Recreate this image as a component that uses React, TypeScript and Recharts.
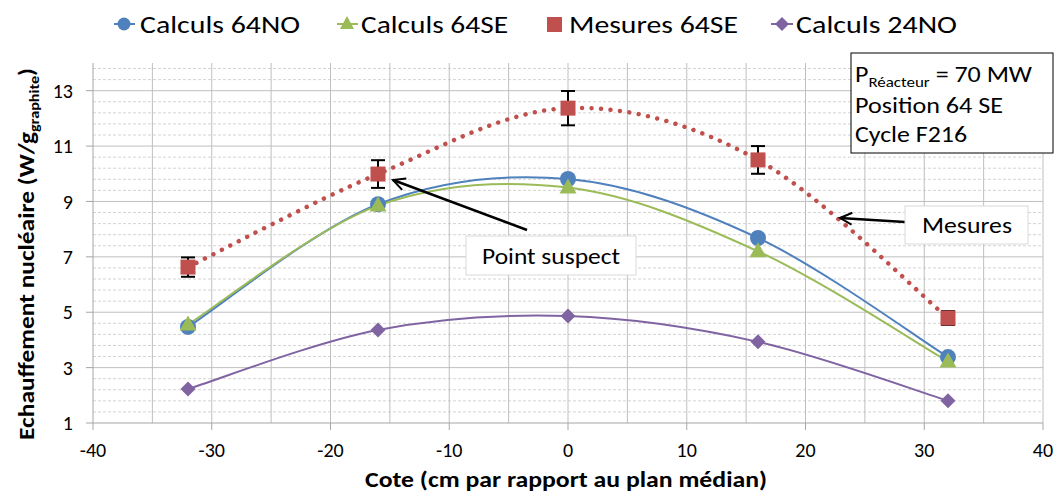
import * as React from "react";
import {
  LineChart,
  Line,
  XAxis,
  YAxis,
  ReferenceLine,
  ErrorBar,
} from "recharts";

// values
const cotes = [-32, -16, 0, 16, 32];
const calculs64NO = [4.47, 8.9, 9.81, 7.68, 3.38];
const calculs64SE = [4.56, 8.85, 9.5, 7.2, 3.22];
const mesures64SE = [6.63, 9.99, 12.37, 10.5, 4.79];
const mesuresErr = [0.35, 0.5, 0.62, 0.5, 0.25];
const calculs24NO = [2.23, 4.36, 4.86, 3.93, 1.8];

const xTicks = [-40, -30, -20, -10, 0, 10, 20, 30, 40];
const xGrid = [-35, -30, -25, -20, -15, -10, -5, 0, 5, 10, 15, 20, 25, 30, 35, 40];
const yTicks = [1, 3, 5, 7, 9, 11, 13];
const yMinor: number[] = [];
for (let v = 1.4; v < 14; v += 0.4) {
  const r = Math.round(v * 10) / 10;
  if (!yTicks.includes(r)) yMinor.push(r);
}

const BLUE = "#4F81BD";
const GREEN = "#9BBB59";
const RED = "#C0504D";
const PURPLE = "#8064A2";
const FONT = "Calibri, Carlito, Lato, sans-serif";

const data = cotes.map((x, i) => ({
  x,
  no64: calculs64NO[i],
  se64: calculs64SE[i],
  mes: mesures64SE[i],
  mesErr: mesuresErr[i],
  no24: calculs24NO[i],
}));

// Excel-like smoothed line (Catmull-Rom through the points)
const excelSmooth = (context: any) => {
  let pts: number[][] = [];
  return {
    areaStart() {},
    areaEnd() {},
    lineStart() {
      pts = [];
    },
    point(x: number, y: number) {
      pts.push([+x, +y]);
    },
    lineEnd() {
      const n = pts.length;
      if (!n) return;
      context.moveTo(pts[0][0], pts[0][1]);
      for (let i = 0; i < n - 1; i++) {
        const p0 = pts[i > 0 ? i - 1 : i];
        const p1 = pts[i];
        const p2 = pts[i + 1];
        const p3 = pts[i + 2 < n ? i + 2 : i + 1];
        context.bezierCurveTo(
          p1[0] + (p2[0] - p0[0]) / 6,
          p1[1] + (p2[1] - p0[1]) / 6,
          p2[0] - (p3[0] - p1[0]) / 6,
          p2[1] - (p3[1] - p1[1]) / 6,
          p2[0],
          p2[1]
        );
      }
    },
  };
};

const circleDot = (p: any) => <circle key={`c${p.index}`} cx={p.cx} cy={p.cy} r={8} fill={BLUE} />;
const triangleDot = (p: any) => (
  <polygon
    key={`t${p.index}`}
    points={`${p.cx},${p.cy - 9} ${p.cx - 8.5},${p.cy + 6} ${p.cx + 8.5},${p.cy + 6}`}
    fill={GREEN}
  />
);
const squareDot = (p: any) => (
  <rect key={`s${p.index}`} x={p.cx - 7.5} y={p.cy - 7.5} width={15} height={15} fill={RED} />
);
const diamondDot = (p: any) => (
  <polygon
    key={`d${p.index}`}
    points={`${p.cx},${p.cy - 7.5} ${p.cx + 7.5},${p.cy} ${p.cx},${p.cy + 7.5} ${p.cx - 7.5},${p.cy}`}
    fill={PURPLE}
  />
);

function Overlay() {
  return (
    <svg
      width={1056}
      height={503}
      style={{ position: "absolute", left: 0, top: 0, pointerEvents: "none" }}
      fontFamily={FONT}
    >
      <defs>
        <marker id="open-arrow" markerWidth="16" markerHeight="16" refX="13" refY="7" orient="auto" markerUnits="userSpaceOnUse">
          <path d="M1,1 L13,7 L1,13" fill="none" stroke="#000" strokeWidth={2} />
        </marker>
      </defs>

      {/* legend */}
      <line x1={114} x2={135} y1={24} y2={24} stroke={BLUE} strokeWidth={2} />
      <circle cx={124} cy={24} r={6.5} fill={BLUE} />
      <text x={140} y={33} fontSize={24} textLength={160} lengthAdjust="spacingAndGlyphs">Calculs 64NO</text>
      <line x1={337} x2={358} y1={24} y2={24} stroke={GREEN} strokeWidth={2} />
      <polygon points="347,16 340,29 354,29" fill={GREEN} />
      <text x={361} y={33} fontSize={24} textLength={147} lengthAdjust="spacingAndGlyphs">Calculs 64SE</text>
      <rect x={547} y={17} width={15} height={15} fill={RED} />
      <text x={569} y={33} fontSize={24} textLength={169} lengthAdjust="spacingAndGlyphs">Mesures 64SE</text>
      <line x1={771} x2={793} y1={24} y2={24} stroke={PURPLE} strokeWidth={2} />
      <polygon points="782,17 789,24 782,31 775,24" fill={PURPLE} />
      <text x={796} y={33} fontSize={24} textLength={161} lengthAdjust="spacingAndGlyphs">Calculs 24NO</text>

      {/* axis titles */}
      <text
        transform="translate(34,254) rotate(-90)"
        textAnchor="middle"
        fontSize={22}
        fontWeight="bold"
        textLength={372}
        lengthAdjust="spacingAndGlyphs"
      >
        Echauffement nucléaire (W/g
        <tspan fontSize={14} dy={5}>graphite</tspan>
        <tspan dy={-5}>)</tspan>
      </text>
      <text x={566} y={487} textAnchor="middle" fontSize={22} fontWeight="bold" textLength={402} lengthAdjust="spacingAndGlyphs">
        Cote (cm par rapport au plan médian)
      </text>

      {/* info box */}
      <rect x={851} y={53} width={202} height={100} fill="#fff" stroke="#000" strokeWidth={1} />
      <text x={855} y={82} fontSize={23} textLength={177} lengthAdjust="spacingAndGlyphs">
        P<tspan fontSize={15} dy={5}>Réacteur</tspan>
        <tspan dy={-5}> = 70 MW</tspan>
      </text>
      <text x={855} y={113} fontSize={23} textLength={148} lengthAdjust="spacingAndGlyphs">Position 64 SE</text>
      <text x={855} y={142} fontSize={23} textLength={112} lengthAdjust="spacingAndGlyphs">Cycle F216</text>

      {/* annotations */}
      <line x1={527} y1={230} x2={393} y2={180} stroke="#000" strokeWidth={2.5} markerEnd="url(#open-arrow)" />
      <rect x={466} y={236} width={170} height={39} fill="#fff" stroke="#d9d9d9" />
      <text x={551} y={264} textAnchor="middle" fontSize={23} textLength={138} lengthAdjust="spacingAndGlyphs">Point suspect</text>

      <line x1={905} y1={222} x2={840} y2={218} stroke="#000" strokeWidth={2.5} markerEnd="url(#open-arrow)" />
      <rect x={905} y={206} width={123} height={38} fill="#fff" stroke="#d9d9d9" />
      <text x={967} y={233} textAnchor="middle" fontSize={23} textLength={90} lengthAdjust="spacingAndGlyphs">Mesures</text>
    </svg>
  );
}

export default function App() {
  return (
    <div style={{ position: "relative", width: 1056, height: 503, background: "#fff", fontFamily: FONT }}>
      <style>{`body{margin:0}`}</style>
      <LineChart width={1056} height={503} data={data} margin={{ top: 63, right: 13, bottom: 40, left: 33 }}>
        <XAxis
          type="number"
          dataKey="x"
          domain={[-40, 40]}
          ticks={xTicks}
          interval={0}
          height={40}
          tickSize={7}
          tickMargin={13}
          tick={{ fontSize: 20, fill: "#000", fontFamily: FONT }}
          axisLine={{ stroke: "#a6a6a6" }}
          tickLine={{ stroke: "#a6a6a6" }}
        />
        <YAxis
          type="number"
          domain={[1, 14]}
          ticks={yTicks}
          interval={0}
          width={60}
          tickSize={7}
          tickMargin={13}
          tick={{ fontSize: 20, fill: "#000", fontFamily: FONT }}
          axisLine={{ stroke: "#a6a6a6" }}
          tickLine={{ stroke: "#a6a6a6" }}
        />
        {yMinor.map((v) => (
          <ReferenceLine key={`ym${v}`} y={v} stroke="#d4d4d4" strokeDasharray="3 2" />
        ))}
        {yTicks.slice(1).map((v) => (
          <ReferenceLine key={`y${v}`} y={v} stroke="#bfbfbf" />
        ))}
        {xGrid.map((v) => (
          <ReferenceLine key={`x${v}`} x={v} stroke="#bfbfbf" />
        ))}
        <Line
          dataKey="mes"
          type={excelSmooth as any}
          stroke={RED}
          strokeWidth={4.5}
          strokeDasharray="0.01 9.5"
          strokeLinecap="round"
          dot={squareDot}
          isAnimationActive={false}
        >
          <ErrorBar dataKey="mesErr" direction="y" width={7} strokeWidth={2} stroke="#000" />
        </Line>
        <Line dataKey="no24" type={excelSmooth as any} stroke={PURPLE} strokeWidth={2} dot={diamondDot} isAnimationActive={false} />
        <Line dataKey="no64" type={excelSmooth as any} stroke={BLUE} strokeWidth={2} dot={circleDot} isAnimationActive={false} />
        <Line dataKey="se64" type={excelSmooth as any} stroke={GREEN} strokeWidth={2} dot={triangleDot} isAnimationActive={false} />
      </LineChart>
      <Overlay />
    </div>
  );
}
